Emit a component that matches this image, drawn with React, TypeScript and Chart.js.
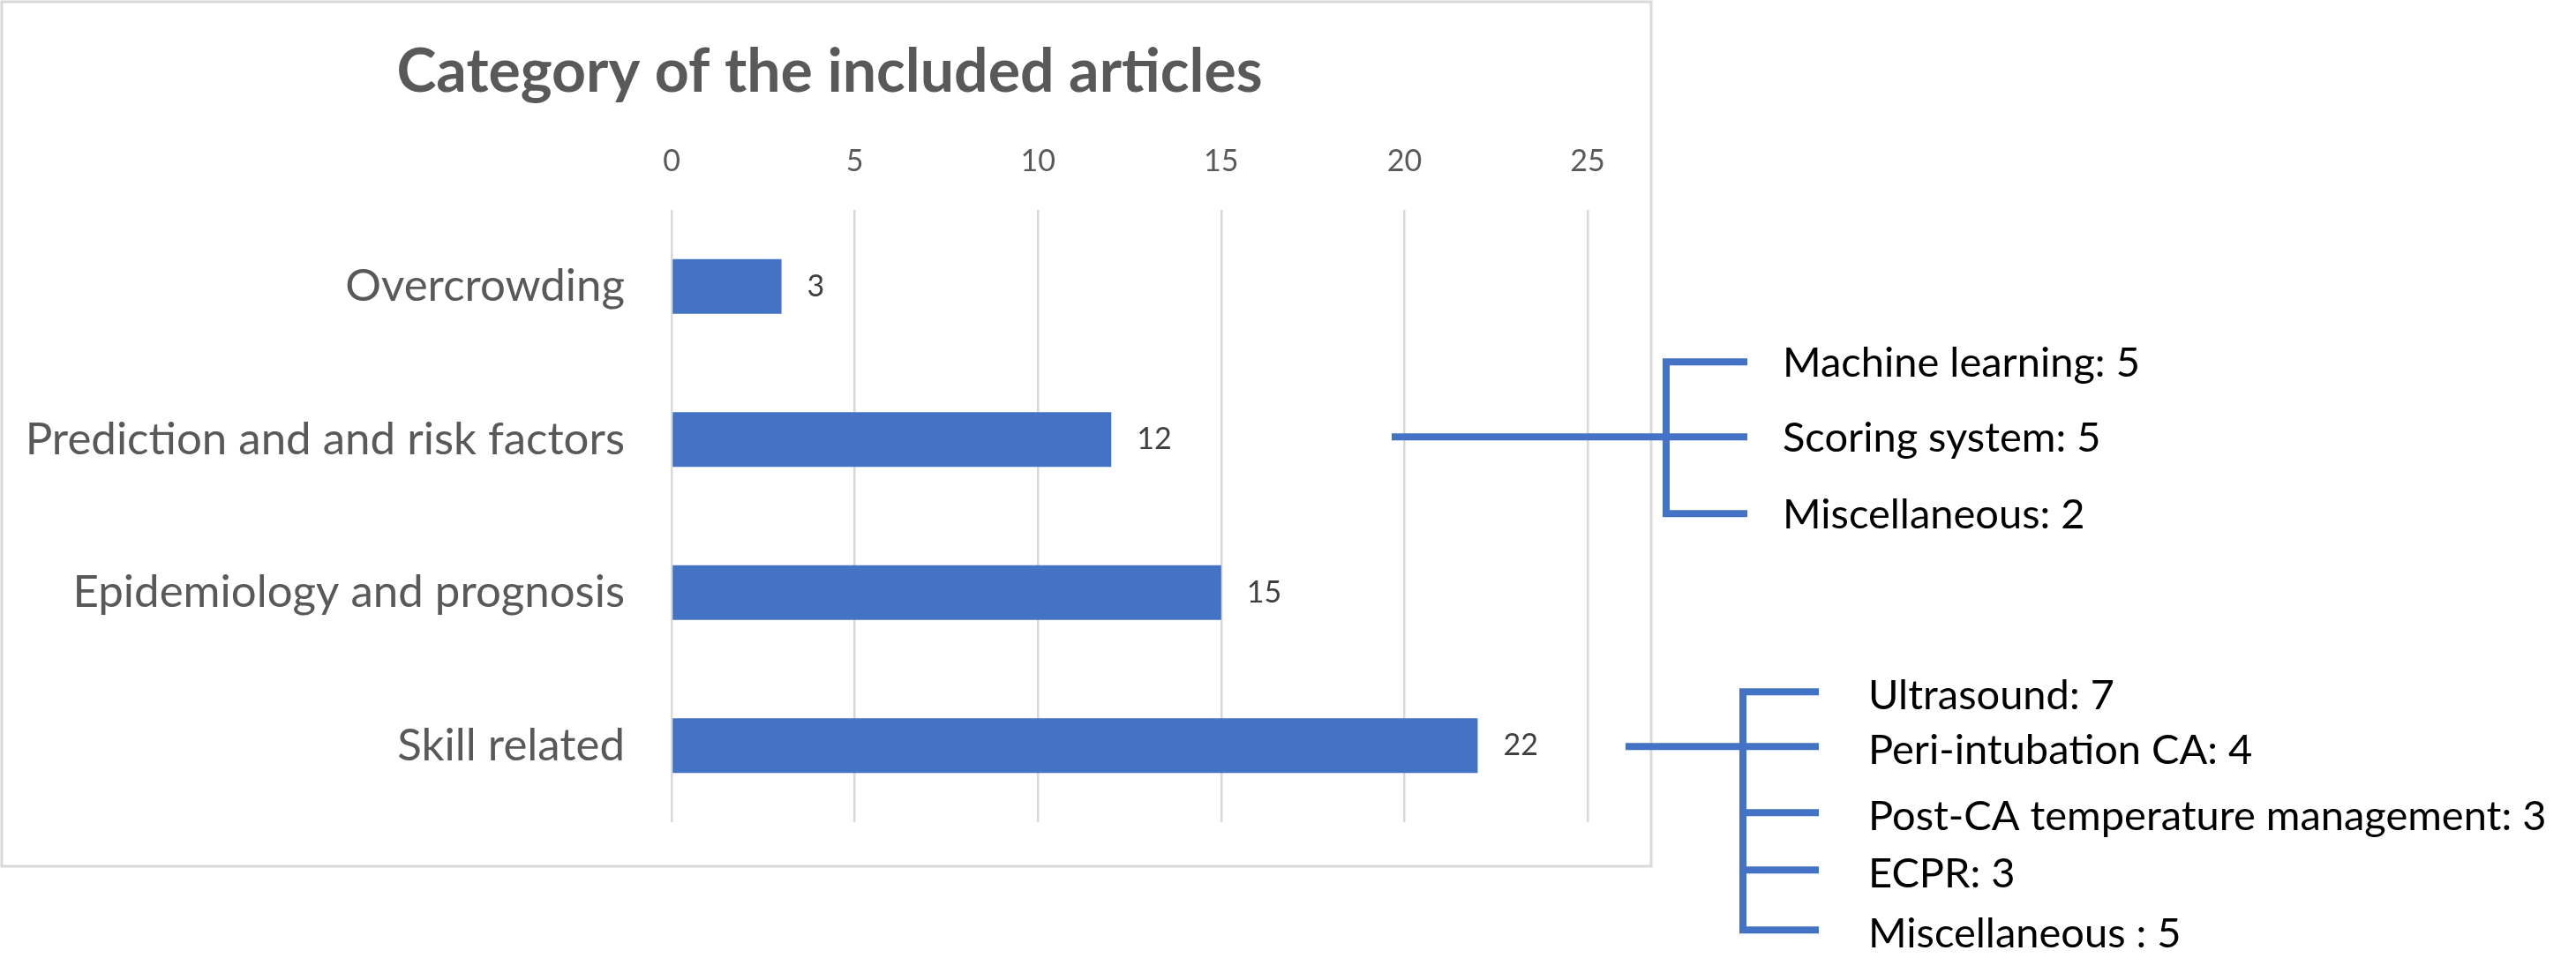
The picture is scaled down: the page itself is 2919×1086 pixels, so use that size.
import React, { useEffect, useRef } from 'react';
import { Chart, registerables } from 'chart.js';

Chart.register(...registerables);

// ---- data ----
const categories = [
  'Overcrowding',
  'Prediction and and risk factors',
  'Epidemiology and prognosis',
  'Skill related',
];
const counts = [3, 12, 15, 22];
const axisMin = 0;
const axisMax = 25;
const axisStep = 5;
const chartTitle = 'Category of the included articles';
const predictionBreakdown = ['Machine learning: 5', 'Scoring system: 5', 'Miscellaneous: 2'];
const skillBreakdown = [
  'Ultrasound: 7',
  'Peri-intubation CA: 4',
  'Post-CA temperature management: 3',
  'ECPR: 3',
  'Miscellaneous : 5',
];

// ---- layout / style ----
const W = 2919;
const H = 1086;
const FONT = 'Lato, "Liberation Sans", sans-serif';
const BLUE = '#4472C4';
const PLOT = { left: 761, right: 1799, top: 238, bottom: 932 };

// bracket geometry (layout only)
const BRACKETS = [
  {
    category: 1,
    labels: predictionBreakdown,
    stemStart: 1577,
    spineX: 1888,
    tickEnd: 1980,
    textX: 2020,
    offsets: [-85, 0, 87],
    textDy: 2,
    stemDy: -3,
  },
  {
    category: 3,
    labels: skillBreakdown,
    stemStart: 1842,
    spineX: 1975,
    tickEnd: 2061,
    textX: 2117,
    offsets: [-62, 0, 75, 140, 208],
    textDy: 5,
    stemDy: 1,
  },
];

const decorations = {
  id: 'decorations',
  beforeDraw(chart: any) {
    const ctx = chart.ctx;
    ctx.save();
    ctx.fillStyle = '#ffffff';
    ctx.fillRect(0, 0, W, H);
    ctx.strokeStyle = '#D9D9D9';
    ctx.lineWidth = 3;
    ctx.strokeRect(2, 2, 1869, 980);
    // title
    ctx.fillStyle = '#595959';
    ctx.font = `bold 68px ${FONT}`;
    ctx.textAlign = 'center';
    ctx.textBaseline = 'middle';
    ctx.fillText(chartTitle, 940, 82);
    ctx.restore();
  },
  afterDatasetsDraw(chart: any) {
    const ctx = chart.ctx;
    const meta = chart.getDatasetMeta(0);
    ctx.save();
    ctx.fillStyle = '#404040';
    ctx.font = `34px ${FONT}`;
    ctx.textAlign = 'left';
    ctx.textBaseline = 'middle';
    meta.data.forEach((bar: any, i: number) => {
      ctx.fillText(String(counts[i]), bar.x + 29, bar.y);
    });
    ctx.restore();
  },
  afterDraw(chart: any) {
    const ctx = chart.ctx;
    const yScale = chart.scales.y;
    ctx.save();
    ctx.strokeStyle = BLUE;
    ctx.lineWidth = 8;
    ctx.lineCap = 'butt';
    ctx.fillStyle = '#000000';
    ctx.font = `47px ${FONT}`;
    ctx.textAlign = 'left';
    ctx.textBaseline = 'middle';
    BRACKETS.forEach((b) => {
      const stemY = yScale.getPixelForValue(b.category) + b.stemDy;
      const ys = b.offsets.map((o) => stemY + o);
      ctx.beginPath();
      ctx.moveTo(b.stemStart, stemY);
      ctx.lineTo(b.spineX, stemY);
      ctx.moveTo(b.spineX, ys[0] - 4);
      ctx.lineTo(b.spineX, ys[ys.length - 1] + 4);
      ys.forEach((y) => {
        ctx.moveTo(b.spineX - 4, y);
        ctx.lineTo(b.tickEnd, y);
      });
      ctx.stroke();
      b.labels.forEach((t, i) => {
        ctx.fillText(t, b.textX, ys[i] + b.textDy);
      });
    });
    ctx.restore();
  },
};

export default function App() {
  const ref = useRef<HTMLCanvasElement | null>(null);

  useEffect(() => {
    document.body.style.margin = '0';
    document.body.style.overflow = 'hidden';
    const canvas = ref.current;
    if (!canvas) return;
    const chart = new Chart(canvas, {
      type: 'bar',
      data: {
        labels: categories,
        datasets: [
          {
            data: counts,
            backgroundColor: BLUE,
            borderWidth: 0,
            categoryPercentage: 1,
            barPercentage: 0.356,
          },
        ],
      },
      options: {
        indexAxis: 'y',
        responsive: false,
        animation: false,
        devicePixelRatio: 1,
        layout: {
          padding: { left: 0, top: 0, right: W - PLOT.right, bottom: H - PLOT.bottom },
        },
        plugins: {
          legend: { display: false },
          title: { display: false },
          tooltip: { enabled: false },
        },
        scales: {
          x: {
            position: 'top',
            min: axisMin,
            max: axisMax,
            border: { display: false },
            grid: { color: '#D9D9D9', lineWidth: 2.5, drawTicks: false },
            ticks: {
              stepSize: axisStep,
              color: '#595959',
              font: { family: FONT, size: 34 },
              padding: 35,
            },
            afterFit(scale: any) {
              scale.height = PLOT.top;
            },
          },
          y: {
            border: { display: false },
            grid: { display: false, drawTicks: false },
            ticks: {
              color: '#595959',
              font: { family: FONT, size: 51 },
              padding: 53,
            },
            afterFit(scale: any) {
              scale.width = PLOT.left;
            },
          },
        },
      },
      plugins: [decorations],
    });
    return () => chart.destroy();
  }, []);

  return (
    <div style={{ width: W, height: H, overflow: 'hidden' }}>
      <canvas ref={ref} width={W} height={H} style={{ display: 'block', width: W, height: H }} />
    </div>
  );
}
